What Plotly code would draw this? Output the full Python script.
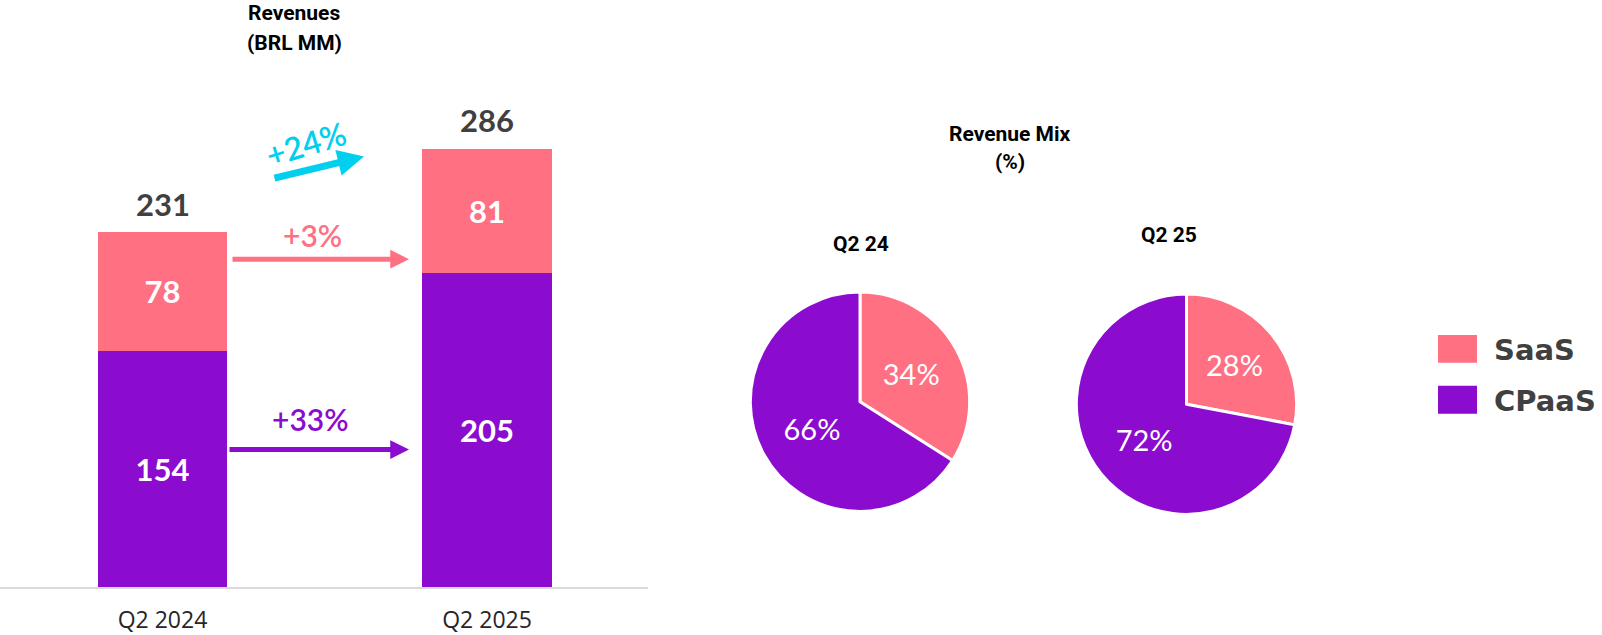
import plotly.graph_objects as go

# ---- data ----
quarters = ["Q2 2024", "Q2 2025"]
cpaas = [154, 205]
saas = [78, 81]
totals = [231, 286]
growth_labels = ["+24%", "+3%", "+33%"]

pie_titles = ["Q2 24", "Q2 25"]
mix_labels = ["SaaS", "CPaaS"]
mix_q2_24 = [34, 66]
mix_q2_25 = [28, 72]

# ---- style ----
PINK = "#FF7083"
PURPLE = "#8B0BCF"
CYAN = "#00CFEE"
DARK = "#404040"
W, H = 1602, 635
NUM_FONT = "Lato, Noto Sans, sans-serif"
TITLE_FONT = "Roboto, Noto Sans, sans-serif"
LEG_FONT = "DejaVu Sans, Noto Sans, sans-serif"


def px_x(x):
    return x / W


def px_y(y):
    return 1 - y / H


fig = go.Figure()

fig.add_trace(go.Bar(
    x=quarters, y=cpaas, name="CPaaS", marker=dict(color=PURPLE, line=dict(width=0)),
    width=0.40, text=cpaas, texttemplate="%{text}", textposition="inside",
    insidetextanchor="middle",
    insidetextfont=dict(family=NUM_FONT, size=31, color="white", weight="bold"),
    showlegend=False, hoverinfo="skip",
))
fig.add_trace(go.Bar(
    x=quarters, y=saas, name="SaaS", marker=dict(color=PINK, line=dict(width=0)),
    width=0.40, text=saas, texttemplate="%{text}", textposition="inside",
    insidetextanchor="middle",
    insidetextfont=dict(family=NUM_FONT, size=31, color="white", weight="bold"),
    showlegend=False, hoverinfo="skip",
))

# pies
pie_specs = [
    (mix_q2_24, [750, 970], [293, 513]),
    (mix_q2_25, [1076, 1297], [295, 516]),
]
for vals, xs, ys in pie_specs:
    fig.add_trace(go.Pie(
        labels=mix_labels, values=vals, sort=False, direction="clockwise", rotation=0,
        marker=dict(colors=[PINK, PURPLE], line=dict(color="white", width=3)),
        texttemplate="%{value}%", textposition="inside", insidetextorientation="horizontal",
        textfont=dict(family=NUM_FONT, size=29, color="white"),
        domain=dict(x=[px_x(xs[0]), px_x(xs[1])], y=[px_y(ys[1]), px_y(ys[0])]),
        showlegend=False, hoverinfo="skip",
    ))

# axis scale: baseline at y=589px, 1.537 px per unit
base_px = 589
ppu = 1.537
y_top_units = base_px / ppu

fig.update_layout(
    width=W, height=H, margin=dict(l=0, r=0, t=0, b=0),
    paper_bgcolor="white", plot_bgcolor="white",
    barmode="stack",
    xaxis=dict(domain=[0, 648 / W], range=[-0.5008, 1.496], showline=True,
               linecolor="#d9d9d9", linewidth=2, ticks="", showgrid=False,
               tickfont=dict(family="Open Sans, Noto Sans, sans-serif", size=23, color="#262626"),
               ticklabelstandoff=11, fixedrange=True),
    yaxis=dict(domain=[1 - base_px / H, 1], range=[0, y_top_units], visible=False,
               fixedrange=True),
    showlegend=False,
)

annotations = []
# total labels above the bars
for q, t in zip(quarters, totals):
    annotations.append(dict(x=q, y=t, xref="x", yref="y", text=str(t), showarrow=False,
                            xanchor="center", yanchor="bottom", yshift=8,
                            font=dict(family=NUM_FONT, size=31, color=DARK, weight="bold")))

# titles
for text, x, y, size in [
    ("<b>Revenues</b>", 294, 13, 21), ("<b>(BRL MM)</b>", 294, 43, 21),
    ("<b>Revenue Mix</b>", 1010, 134, 21), ("<b>(%)</b>", 1010, 163, 21),
    ("<b>" + pie_titles[0] + "</b>", 861, 245, 21), ("<b>" + pie_titles[1] + "</b>", 1169, 236, 21),
]:
    annotations.append(dict(text=text, x=px_x(x), y=px_y(y), xref="paper", yref="paper",
                            xanchor="center", yanchor="middle", showarrow=False,
                            font=dict(family=TITLE_FONT, size=size, color="black")))

# growth arrows
arrows = [
    (CYAN, (273, 179), (364, 157), 7),
    (PINK, (231, 260), (409, 260), 5),
    (PURPLE, (228, 451), (409, 451), 5),
]
for color, tail, tip, w in arrows:
    annotations.append(dict(x=px_x(tip[0]), y=px_y(tip[1]), xref="paper", yref="paper",
                            ax=tail[0] - tip[0], ay=tail[1] - tip[1], axref="pixel", ayref="pixel",
                            showarrow=True, arrowhead=2, arrowsize=0.75, arrowwidth=w,
                            arrowcolor=color, text=""))
# growth labels
for text, color, (x, y), angle, size in [
    (growth_labels[0], CYAN, (306, 144), -17, 32),
    (growth_labels[1], PINK, (312, 236), 0, 30),
    (growth_labels[2], PURPLE, (310, 420), 0, 30),
]:
    annotations.append(dict(text=text, x=px_x(x), y=px_y(y), xref="paper", yref="paper",
                            xanchor="center", yanchor="middle", showarrow=False, textangle=angle,
                            font=dict(family=NUM_FONT, size=size, color=color, weight=600)))

# legend
shapes = []
for label, color, y0 in [(mix_labels[0], PINK, 336), (mix_labels[1], PURPLE, 387)]:
    shapes.append(dict(type="rect", xref="paper", yref="paper",
                       x0=px_x(1438), x1=px_x(1477), y0=px_y(y0 + 28), y1=px_y(y0),
                       fillcolor=color, line=dict(width=0)))
    annotations.append(dict(text=label, x=px_x(1492), y=px_y(y0 + 15), xref="paper", yref="paper",
                            xanchor="left", yanchor="middle", showarrow=False,
                            font=dict(family=LEG_FONT, size=29, color=DARK, weight="bold")))

fig.update_layout(annotations=annotations, shapes=shapes)

fig.write_html("out.html", config={"displayModeBar": False},
               post_script="document.body.style.margin='0';document.body.style.overflow='hidden';")
